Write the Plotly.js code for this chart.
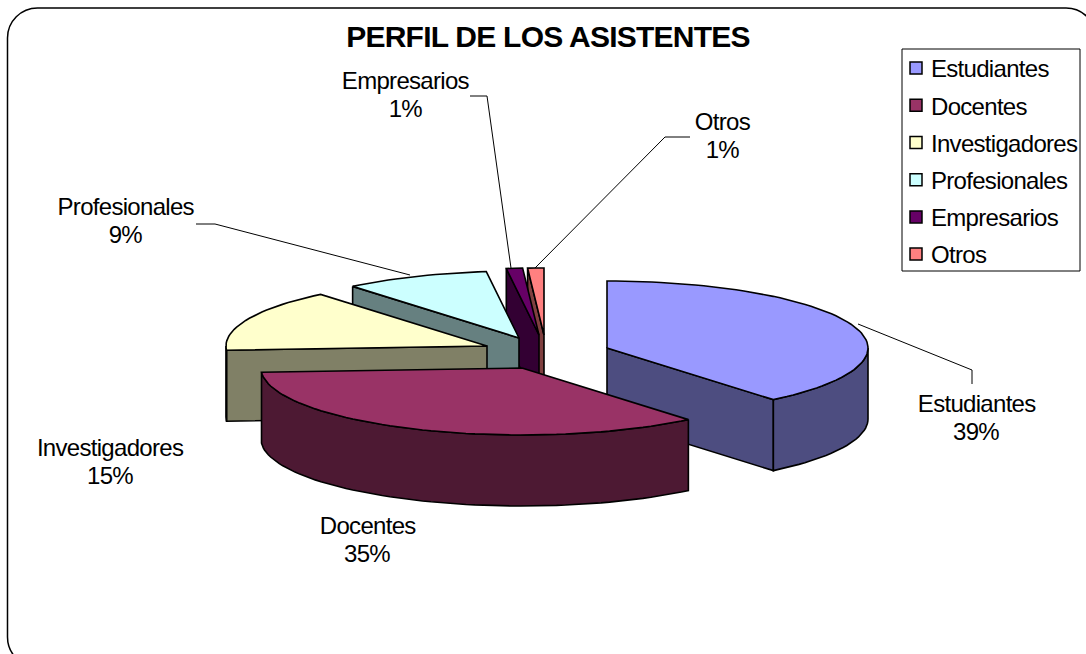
<!DOCTYPE html>
<html>
<head>
<meta charset="utf-8">
<script src="https://cdn.plot.ly/plotly-3.0.1.min.js"></script>
<style>
  html, body { margin: 0; padding: 0; background: #fff; }
  #chart { width: 1086px; height: 654px; }
  #chart .annotation-text { letter-spacing: -0.7px; }
  #chart .legendtext { letter-spacing: -0.7px; }
  #chart .gtitle { letter-spacing: -0.75px; }
  #chart .legend path.scatterpts { transform: translate(25px, 0px); }
</style>
</head>
<body>
<div id="chart"></div>
<script>
// Audience profile shares, in percent
const categories = ['Estudiantes', 'Docentes', 'Investigadores', 'Profesionales', 'Empresarios', 'Otros'];
const shares = [39, 35, 15, 9, 1, 1];

// Colours: top faces and their shaded sides
const topColors = ['#9999ff', '#993366', '#ffffcc', '#ccffff', '#660066', '#ff8080'];
const sideColors = ['#4d4d80', '#4d1933', '#808066', '#668080', '#330033', '#804040'];

// Exploded slice apexes and the tilted-pie projection
const apexX = [607, 522, 487, 519, 539, 544];
const apexY = [348, 368, 346, 338, 335, 335];
const radiusX = 261, radiusY = 67, depth = 71;

// Label centres for each slice: name line, then percent line
const labelX = [976, 367, 110, 125, 405, 722];
const labelY = [403, 525, 447, 206, 80, 121];
const labelLineGap = 28;

const rad = d => d * Math.PI / 180;
const rimX = (i, a) => apexX[i] + radiusX * Math.sin(rad(a));
const rimY = (i, a) => apexY[i] - radiusY * Math.cos(rad(a));

function arc(i, from, to) {
  const n = Math.max(2, Math.ceil(Math.abs(to - from) / 2));
  const pts = [];
  for (let k = 0; k <= n; k++) {
    const a = from + (to - from) * k / n;
    pts.push([rimX(i, a), rimY(i, a)]);
  }
  return pts;
}

function face(pts, color) {
  const closed = pts.concat([pts[0]]);
  return {
    type: 'scatter', mode: 'lines', fill: 'toself', fillcolor: color,
    x: closed.map(p => p[0]), y: closed.map(p => p[1]),
    line: { color: '#000', width: 1.6 }, hoverinfo: 'skip', showlegend: false
  };
}

// Slice angles, clockwise from twelve o'clock
const total = shares.reduce((s, v) => s + v, 0);
const startAngle = [], endAngle = [];
shares.reduce((acc, v, i) => {
  startAngle[i] = acc / total * 360;
  endAngle[i] = (acc + v) / total * 360;
  return acc + v;
}, 0);

function sliceTraces(i) {
  const out = [], a0 = startAngle[i], a1 = endAngle[i];
  const apex = [apexX[i], apexY[i]];
  const down = p => [p[0], p[1] + depth];
  const cut = a => {
    const r = [rimX(i, a), rimY(i, a)];
    return [r, apex, down(apex), down(r)];
  };
  if (a0 > 180) out.push(face(cut(a0), sideColors[i]));
  if (a1 < 180) out.push(face(cut(a1), sideColors[i]));
  const w0 = Math.max(a0, 90), w1 = Math.min(a1, 270);
  if (w1 > w0) {
    const edge = arc(i, w0, w1);
    out.push(face(edge.concat(edge.slice().reverse().map(down)), sideColors[i]));
  }
  out.push(face([apex].concat(arc(i, a0, a1)), topColors[i]));
  return out;
}

// Painted back to front so nearer slices cover farther ones
const paintOrder = [0, 5, 4, 3, 2, 1];
const traces = paintOrder.flatMap(sliceTraces);

// Legend entries
categories.forEach((name, i) => traces.push({
  type: 'scatter', mode: 'markers', x: [null], y: [null], name: name,
  legendgroup: name,
  marker: { symbol: 'square', size: 12, color: topColors[i], line: { color: '#000', width: 1.5 } }
}));

const font = { family: '"Liberation Sans", Arial, sans-serif', size: 24, color: '#000' };

const textLine = (text, x, y) => ({
  xref: 'x', yref: 'y', x: x, y: y, text: text,
  showarrow: false, font: font, xanchor: 'center', yanchor: 'middle'
});
const annotations = categories.flatMap((name, i) => [
  textLine(name, labelX[i], labelY[i]),
  textLine(shares[i] + '%', labelX[i], labelY[i] + labelLineGap)
]);

const leader = d => ({ type: 'path', path: d, xref: 'x', yref: 'y', line: { color: '#000', width: 1 } });

const layout = {
  width: 1086, height: 654,
  margin: { l: 0, r: 0, t: 0, b: 0, autoexpand: false },
  paper_bgcolor: '#fff', plot_bgcolor: 'rgba(0,0,0,0)',
  xaxis: { range: [0, 1086], visible: false, fixedrange: true },
  yaxis: { range: [654, 0], visible: false, fixedrange: true },
  title: {
    text: '<b>PERFIL DE LOS ASISTENTES</b>',
    font: { family: font.family, size: 30, color: '#000' },
    x: 548 / 1086, xanchor: 'center', y: 1 - 36 / 654, yanchor: 'middle'
  },
  showlegend: true,
  legend: {
    x: 891 / 1086, xanchor: 'left', y: 1 - 46 / 654, yanchor: 'top',
    bgcolor: 'rgba(0,0,0,0)', borderwidth: 0, font: font,
    traceorder: 'grouped', tracegroupgap: 3,
    entrywidth: 135, entrywidthmode: 'pixels'
  },
  annotations: annotations,
  shapes: [
    { type: 'path', xref: 'x', yref: 'y', line: { color: '#000', width: 1.5 },
      path: 'M 37.5 8 L 1066 8 C 1082.6 8 1096 21.4 1096 38 L 1096 637 C 1096 653.6 1082.6 667 1066 667 L 37.5 667 C 20.9 667 7.5 653.6 7.5 637 L 7.5 38 C 7.5 21.4 20.9 8 37.5 8 Z' },
    { type: 'rect', xref: 'x', yref: 'y', x0: 902, x1: 1080, y0: 49, y1: 271, line: { color: '#000', width: 1 } },
    leader('M 858 324 L 972 370 L 972 384'),
    leader('M 196 224 L 215 224 L 410 275'),
    leader('M 470 96 L 487 96 L 511 268'),
    leader('M 690 137 L 665 137 L 535 268')
  ]
};

Plotly.newPlot('chart', traces, layout, { displayModeBar: false, staticPlot: true });
</script>
</body>
</html>
